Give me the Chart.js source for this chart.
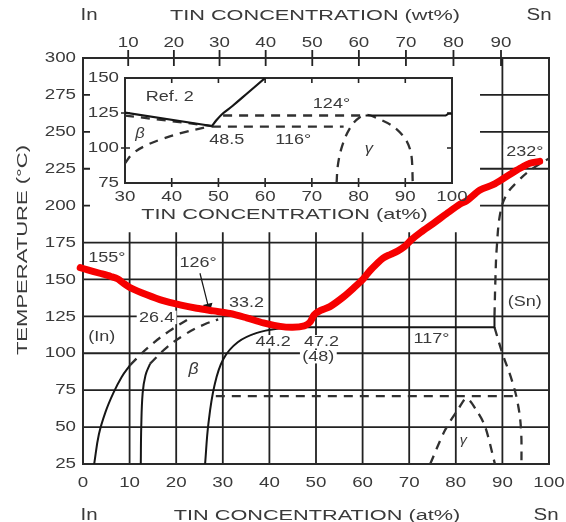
<!DOCTYPE html>
<html>
<head>
<meta charset="utf-8">
<script src="https://cdn.jsdelivr.net/npm/chart.js@4.4.1/dist/chart.umd.min.js"></script>
<style>
  body { margin: 0; background: #fff; }
  #wrap { position: relative; width: 566px; height: 522px; }
  #main { position: absolute; left: 0; top: 0; }
  #inset { position: absolute; left: 85px; top: 66px; }
</style>
</head>
<body>
<div id="wrap">
  <canvas id="main" width="566" height="522"></canvas>
  <canvas id="inset" width="385" height="162"></canvas>
</div>
<script>
// ---- axes ----
const atTicks = [0, 10, 20, 30, 40, 50, 60, 70, 80, 90, 100];
const tempTicks = [25, 50, 75, 100, 125, 150, 175, 200, 225, 250, 275, 300];
const wtTicks = [10, 20, 30, 40, 50, 60, 70, 80, 90];
const wtAsAt = [9.7, 19.5, 29.3, 39.2, 49.2, 59.2, 69.3, 79.5, 89.7];
const lowGrid = [50, 75, 100, 125, 150, 175];
const highGrid = [200, 225, 250, 275];
const innerAt = [10, 20, 30, 40, 50, 60, 70, 80];

// ---- main diagram lines (at%, degC) ----
const liquidus = [[-0.6, 158], [1, 156.5], [3.6, 154.2], [6, 152], [7.5, 150.3], [8.6, 147.6], [10.1, 144.5],
  [13.7, 139.6], [17.2, 135.6], [20.8, 132.8], [24.4, 130.5], [28, 128.7], [31.5, 127], [35.1, 124],
  [38.7, 120.6], [42.3, 118.2], [45, 117.6], [47.5, 118.6], [48.7, 121], [49.6, 126], [51, 129],
  [53, 131.6], [55.9, 138.2], [58, 144], [60.2, 150.6], [61.6, 156], [63, 160.5], [64.4, 164.5],
  [66, 167], [67.5, 169.2], [69, 172.3], [70.5, 177], [72.5, 182], [75.2, 188], [78, 194.5],
  [80.9, 201], [82.3, 203.2], [85.2, 210.6], [88, 214.2], [90.9, 219.7], [93.8, 225.3], [95.9, 228.7], [98, 230]];
const inSolvus = [[2.4, 25], [3.4, 45], [4.8, 60], [6.5, 73], [8.3, 84], [10.1, 92]];
const inSolidus = [[10.1, 92], [14, 104], [18.5, 115], [23.3, 124.4]];
const betaLeft = [[12.4, 25], [12.5, 50], [12.8, 73], [13.4, 85], [14.4, 93]];
const betaLeftTop = [[14.4, 93], [18, 104], [22, 113], [26, 119.5], [29, 123]];
const betaRight = [[26.2, 25], [26.9, 52], [28.2, 78], [30.1, 96], [33.2, 107.5], [37.5, 114], [42, 116.8], [46, 117.6]];
const eutectic = [[44, 117.6], [88.3, 117.6], [88.3, 125]];
const snSolidus = [[88.3, 125], [88.5, 150], [88.8, 172], [89.6, 196], [91, 208], [93, 215.5], [96, 224], [100, 232]];
const snSolvus = [[88.3, 117.6], [90, 100], [92, 82], [93.3, 66], [94, 48], [94.1, 25]];
const gammaFlat = [[28.5, 71], [92.5, 71]];
const gammaDome = [[74.5, 25], [77.7, 48], [80.5, 62], [82.3, 69.5], [84.5, 61], [86.3, 50.3], [88.4, 25]];
const arrow126 = [[25.1, 154.2], [26.9, 131.6]];

const mainLabels = [
  ['155°', 5.1, 164.4], ['126°', 24.7, 161], ['33.2', 35.1, 134.3], ['26.4', 15.8, 124.3],
  ['(In)', 4, 111.3], ['44.2', 40.8, 107.8], ['47.2', 51.2, 107.8], ['(48)', 50.5, 97.7],
  ['117°', 74.8, 109.5], ['(Sn)', 94.8, 135], ['232°', 94.8, 236.6]
];
const mainGreek = [['β', 23.7, 88.7], ['γ', 81.6, 41.3]];

// ---- inset (Ref. 2) ----
const insetAt = [30, 40, 50, 60, 70, 80, 90, 100];
const insetTemp = [75, 100, 125, 150];
const insetLiqA = [[30, 125.3], [48.6, 115.7]];
const insetLiqB = [[30, 123.2], [48.6, 115.7]];
const insetRise = [[48.6, 115.7], [49.6, 120], [51, 124.8], [53, 130], [56.5, 140], [60, 150]];
const inset124Dash = [[51, 123.2], [80.5, 123.2]];
const inset124Solid = [[81.5, 123.2], [98.6, 123.2], [99.2, 124.4], [100, 124.4]];
const inset116Dash = [[48.6, 115.3], [76.8, 115.3]];
const insetBeta = [[30, 89], [31.5, 95.5], [34, 101], [38, 106.5], [43, 111.5], [48.6, 115.7]];
const insetGamma = [[75.3, 75], [75.5, 86], [76.1, 97], [77.2, 108], [78.6, 116.5], [80.2, 121.8], [81.8, 123.6],
  [83.5, 122], [87.5, 115.2], [90.2, 105.5], [91.3, 95], [91.6, 75]];
const insetLabels = [['Ref. 2', 39.6, 136.4], ['124°', 74.2, 131.7], ['48.5', 51.8, 105.5], ['116°', 66, 105.5]];
const insetGreek = [['β', 33.2, 110], ['γ', 82.2, 99.6]];

const FONT = "'Liberation Sans', Arial, Helvetica, sans-serif";
const INK = '#161616';
const TEXT = '#3a3a3a';
const DASH_INK = '#303030';

function txt(ctx, s, x, y, o) {
  o = o || {};
  const size = o.size || 15;
  ctx.save();
  ctx.translate(x, y);
  if (o.rot) ctx.rotate(o.rot);
  ctx.scale(o.sx || 1.25, 1);
  ctx.font = (o.style || '') + ' ' + size + 'px ' + FONT;
  ctx.textAlign = o.align || 'center';
  ctx.textBaseline = 'middle';
  if (o.bg) {
    const w = ctx.measureText(s).width;
    const x0 = o.align === 'right' ? -w : (o.align === 'left' ? 0 : -w / 2);
    ctx.fillStyle = '#fff';
    ctx.fillRect(x0 - 2, -size * 0.45, w + 4, size * 0.9);
  }
  ctx.fillStyle = o.color || TEXT;
  ctx.fillText(s, 0, 0);
  ctx.restore();
}

function ln(pts, o) {
  o = o || {};
  return {
    data: pts.map(p => ({ x: p[0], y: p[1] })),
    borderColor: o.color || INK,
    borderWidth: o.width || 2,
    borderDash: o.dash ? [9, 7] : [],
    tension: o.curve ? (o.tension || 0.4) : 0,
    pointRadius: o.pointRadius || 0,
    pointStyle: o.pointStyle,
    rotation: o.rotation || 0,
    pointBackgroundColor: INK,
    pointBorderColor: INK,
    borderCapStyle: o.cap || 'butt',
    borderJoinStyle: 'round',
    clip: o.clip === undefined ? 0 : o.clip,
    fill: false
  };
}

const mainDecor = {
  id: 'mainDecor',
  beforeDatasetsDraw(chart) {
    const { ctx, chartArea: a, scales: { x, y } } = chart;
    ctx.save();
    ctx.strokeStyle = '#222';
    ctx.lineWidth = 1.8;
    ctx.beginPath();
    lowGrid.forEach(t => {
      ctx.moveTo(a.left, y.getPixelForValue(t));
      ctx.lineTo(a.right, y.getPixelForValue(t));
    });
    highGrid.forEach(t => {
      ctx.moveTo(x.getPixelForValue(85.2), y.getPixelForValue(t));
      ctx.lineTo(a.right, y.getPixelForValue(t));
      ctx.moveTo(a.left, y.getPixelForValue(t));
      ctx.lineTo(a.left + 7, y.getPixelForValue(t));
    });
    innerAt.forEach(v => {
      ctx.moveTo(x.getPixelForValue(v), a.bottom);
      ctx.lineTo(x.getPixelForValue(v), y.getPixelForValue(182));
    });
    ctx.moveTo(x.getPixelForValue(90), a.bottom);
    ctx.lineTo(x.getPixelForValue(90), a.top);
    wtAsAt.forEach(v => {
      ctx.moveTo(x.getPixelForValue(v), a.top - 8);
      ctx.lineTo(x.getPixelForValue(v), a.top + 8);
    });
    ctx.stroke();
    ctx.lineWidth = 2;
    ctx.strokeStyle = '#2a2a2a';
    ctx.strokeRect(a.left, a.top, a.right - a.left, a.bottom - a.top);

    // tick labels
    atTicks.forEach(v => txt(ctx, String(v), x.getPixelForValue(v), a.bottom + 19));
    tempTicks.forEach(t => txt(ctx, String(t), a.left - 7, y.getPixelForValue(t), { align: 'right' }));
    wtTicks.forEach((w, i) => txt(ctx, String(w), x.getPixelForValue(wtAsAt[i]), a.top - 15));

    // axis titles
    txt(ctx, 'In', 89, 16, { sx: 1.28, size: 16 });
    txt(ctx, 'TIN CONCENTRATION (wt%)', 315, 16, { sx: 1.4, size: 15.5 });
    txt(ctx, 'Sn', 539, 16, { sx: 1.28, size: 16 });
    txt(ctx, 'In', 89, 516, { sx: 1.28, size: 16 });
    txt(ctx, 'TIN CONCENTRATION (at%)', 317, 516, { sx: 1.4, size: 15.5 });
    txt(ctx, 'Sn', 546, 516, { sx: 1.28, size: 16 });
    txt(ctx, 'TEMPERATURE (°C)', 23, 250, { rot: -Math.PI / 2, sx: 1.42, size: 15.5 });
    ctx.restore();
  },
  beforeDatasetDraw(chart, args) {
    if (args.index !== 0) return;
    const { ctx, scales: { x, y } } = chart;
    mainLabels.forEach(l => txt(ctx, l[0], x.getPixelForValue(l[1]), y.getPixelForValue(l[2]), { bg: true, sx: 1.2 }));
    txt(ctx, mainGreek[0][0], x.getPixelForValue(mainGreek[0][1]), y.getPixelForValue(mainGreek[0][2]), { style: 'italic', sx: 1.1, size: 16 });
    txt(ctx, mainGreek[1][0], x.getPixelForValue(mainGreek[1][1]), y.getPixelForValue(mainGreek[1][2]), { style: 'italic', sx: 1.1, size: 13 });
  }
};

new Chart(document.getElementById('main'), {
  type: 'line',
  data: {
    datasets: [
      ln(liquidus, { color: 'rgb(246,0,0)', width: 7, curve: true, tension: 0.3, cap: 'round', clip: false }),
      ln(arrow126, { width: 1.2, pointRadius: [0, 4.5], pointStyle: 'triangle', rotation: 166 }),
      ln(inSolvus, { curve: true }),
      ln(inSolidus, { curve: true, dash: true, color: DASH_INK, width: 2.3 }),
      ln(betaLeft, { curve: true }),
      ln(betaLeftTop, { curve: true, dash: true, color: DASH_INK, width: 2.3 }),
      ln(betaRight, { curve: true }),
      ln(eutectic, {}),
      ln(snSolidus, { curve: true, dash: true, color: DASH_INK, width: 2.3 }),
      ln(snSolvus, { curve: true, dash: true, color: DASH_INK, width: 2.3 }),
      ln(gammaFlat, { dash: true, color: DASH_INK, width: 2.3 }),
      ln(gammaDome, { curve: true, tension: 0.3, dash: true, color: DASH_INK, width: 2.3 })
    ]
  },
  options: {
    responsive: false,
    animation: false,
    devicePixelRatio: 1,
    layout: { padding: { left: 0, right: 17, top: 0, bottom: 0 } },
    plugins: { legend: { display: false }, tooltip: { enabled: false } },
    scales: {
      x: {
        type: 'linear', position: 'bottom', min: 0, max: 100,
        grid: { display: false }, border: { display: false }, ticks: { display: false },
        afterFit(s) { s.height = 58; }
      },
      xTop: {
        type: 'linear', position: 'top', min: 0, max: 100,
        grid: { display: false }, border: { display: false }, ticks: { display: false },
        afterFit(s) { s.height = 58; }
      },
      y: {
        type: 'linear', min: 25, max: 300,
        grid: { display: false }, border: { display: false }, ticks: { display: false },
        afterFit(s) { s.width = 83; }
      }
    }
  },
  plugins: [mainDecor]
});

const insetDecor = {
  id: 'insetDecor',
  beforeDatasetsDraw(chart) {
    const { ctx, chartArea: a, scales: { x, y } } = chart;
    ctx.save();
    ctx.fillStyle = '#fff';
    ctx.fillRect(a.left, a.top, a.right - a.left, a.bottom - a.top);
    ctx.strokeStyle = '#222';
    ctx.lineWidth = 1.6;
    ctx.beginPath();
    insetAt.slice(1, -1).forEach(v => {
      const px = x.getPixelForValue(v);
      ctx.moveTo(px, a.top); ctx.lineTo(px, a.top + 5);
      ctx.moveTo(px, a.bottom + 4); ctx.lineTo(px, a.bottom - 5);
    });
    insetTemp.slice(1, -1).forEach(t => {
      const py = y.getPixelForValue(t);
      ctx.moveTo(a.left - 4, py); ctx.lineTo(a.left + 5, py);
      ctx.moveTo(a.right, py); ctx.lineTo(a.right - 5, py);
    });
    ctx.stroke();
    ctx.lineWidth = 2;
    ctx.strokeStyle = '#2a2a2a';
    ctx.strokeRect(a.left, a.top, a.right - a.left, a.bottom - a.top);
    insetAt.forEach(v => txt(ctx, String(v), x.getPixelForValue(v), a.bottom + 14));
    insetTemp.forEach(t => txt(ctx, String(t), a.left - 6, y.getPixelForValue(t), { align: 'right' }));
    txt(ctx, 'TIN CONCENTRATION (at%)', (a.left + a.right) / 2 - 4, a.bottom + 32, { sx: 1.4, size: 15.5 });
    ctx.restore();
  },
  afterDatasetsDraw(chart) {
    const { ctx, scales: { x, y } } = chart;
    insetLabels.forEach(l => txt(ctx, l[0], x.getPixelForValue(l[1]), y.getPixelForValue(l[2]), { sx: 1.2 }));
    insetGreek.forEach(l => txt(ctx, l[0], x.getPixelForValue(l[1]), y.getPixelForValue(l[2]), { style: 'italic', sx: 1.1, size: 15 }));
  }
};

new Chart(document.getElementById('inset'), {
  type: 'line',
  data: {
    datasets: [
      ln(insetLiqA, { width: 2.2 }),
      ln(insetLiqB, { dash: true, color: DASH_INK, width: 2.3 }),
      ln(insetRise, { curve: true, width: 2.2 }),
      ln(inset124Dash, { dash: true, color: DASH_INK, width: 2.3 }),
      ln(inset124Solid, { width: 2 }),
      ln(inset116Dash, { dash: true, color: DASH_INK, width: 2.3 }),
      ln(insetBeta, { curve: true, dash: true, color: DASH_INK, width: 2.3 }),
      ln(insetGamma, { curve: true, tension: 0.3, dash: true, color: DASH_INK, width: 2.3 })
    ]
  },
  options: {
    responsive: false,
    animation: false,
    devicePixelRatio: 1,
    layout: { padding: { left: 0, right: 18, top: 12, bottom: 0 } },
    plugins: { legend: { display: false }, tooltip: { enabled: false } },
    scales: {
      x: {
        type: 'linear', min: 30, max: 100,
        grid: { display: false }, border: { display: false }, ticks: { display: false },
        afterFit(s) { s.height = 45; }
      },
      y: {
        type: 'linear', min: 75, max: 150,
        grid: { display: false }, border: { display: false }, ticks: { display: false },
        afterFit(s) { s.width = 40; }
      }
    }
  },
  plugins: [insetDecor]
});
</script>
</body>
</html>
